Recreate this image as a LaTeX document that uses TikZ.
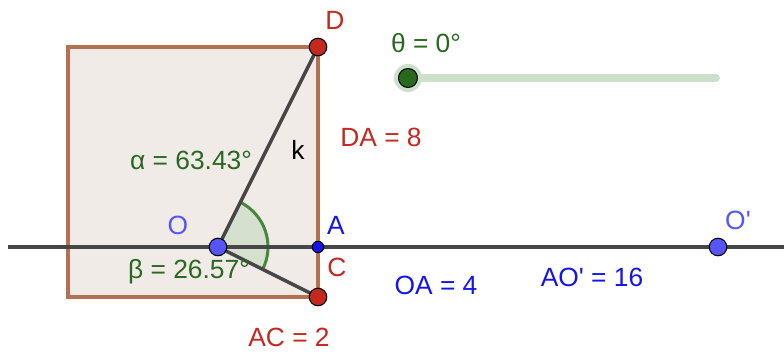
\documentclass[tikz,border=0pt]{standalone}
\usepackage{fontspec}
\setmainfont{Liberation Sans}
\usepackage{tkz-euclide}
\definecolor{ggred}{RGB}{196,40,30}
\definecolor{ggblue}{RGB}{20,20,235}
\definecolor{gglblue}{RGB}{85,85,250}
\definecolor{gggreen}{RGB}{40,105,30}
\definecolor{ggarc}{RGB}{70,135,60}
\definecolor{ggbrown}{RGB}{180,112,82}
\definecolor{ggsquare}{RGB}{241,235,231}
\definecolor{ggaxis}{RGB}{70,70,70}
\definecolor{ggslider}{RGB}{205,224,203}
\definecolor{ggsector}{RGB}{214,224,207}

\begin{document}
\begin{tikzpicture}[line width=3.4pt,font=\fontsize{30}{32}\selectfont]
  \useasboundingbox (-8.72,-4.24) rectangle (22.64,9.88);
  \coordinate (O) at (0,0);
  \coordinate (A) at (4,0);
  \coordinate (C) at (4,-2);
  \coordinate (D) at (4,8);
  \coordinate (E) at (-6,8);
  \coordinate (F) at (-6,-2);
  \coordinate (O') at (20,0);
  \coordinate (L) at (-8.4,0);
  \coordinate (R) at (22.64,0);
  \coordinate (S1) at (7.6,6.76);
  \coordinate (S2) at (19.92,6.76);
  \draw[ggbrown,fill=ggsquare,line width=3.8pt] (D) -- (E) -- (F) -- (C) -- cycle;
  \fill[ggsector] (O) -- ++(-26.57:2) arc[start angle=-26.57,end angle=63.43,radius=2] -- cycle;
  \draw[ggarc,line width=3.4pt] ([shift={(-26.57:2)}]O) arc[start angle=-26.57,end angle=63.43,radius=2];
  \draw[ggaxis,line width=3.6pt] (L) -- (R);
  \draw[ggaxis,line width=4pt] (O) -- (D) (O) -- (C);
  \draw[ggslider,line width=9pt,line cap=round] (S1) -- (S2);
  \fill[ggslider] (S1) circle (0.56);
  \draw[black,fill=gggreen,line width=1.2pt] (S1) circle (0.38);
  \tkzDrawPoints[size=20,color=black,fill=ggred,line width=1.2pt](D,C)
  \tkzDrawPoints[size=20,color=black,fill=gglblue,line width=1.2pt](O,O')
  \tkzDrawPoints[size=13,color=black,fill=ggblue,line width=1.2pt](A)
  \tkzLabelPoint[anchor=center,xshift=0.68cm,yshift=1.08cm,ggred,font=\fontsize{30}{32}\selectfont](D){D}
  \tkzLabelPoint[anchor=center,xshift=0.72cm,yshift=0.88cm,ggblue,font=\fontsize{30}{32}\selectfont](A){A}
  \tkzLabelPoint[anchor=center,xshift=0.76cm,yshift=1.2cm,ggred,font=\fontsize{30}{32}\selectfont](C){C}
  \tkzLabelPoint[anchor=center,xshift=-1.6cm,yshift=0.88cm,gglblue,font=\fontsize{30}{32}\selectfont](O){O}
  \tkzLabelPoint[anchor=center,xshift=0.8cm,yshift=1.08cm,gglblue,font=\fontsize{30}{32}\selectfont](O'){O\textquotesingle}
  \node[gggreen] (alpha) at (-1.08,3.48) {α = 63.43°};
  \node[gggreen] (beta) at (-1.16,-1.0) {β = 26.57°};
  \node (k) at (3.2,3.88) {k};
  \node[ggred] (DA) at (6.52,4.4) {DA = 8};
  \node[ggred] (AC) at (2.84,-3.6) {AC = 2};
  \node[ggblue] (OA) at (8.72,-1.52) {OA = 4};
  \node[ggblue] (AO') at (14.96,-1.2) {AO\textquotesingle{} = 16};
  \node[gggreen] (theta) at (8.32,8.16) {θ = 0°};
\end{tikzpicture}
\end{document}
